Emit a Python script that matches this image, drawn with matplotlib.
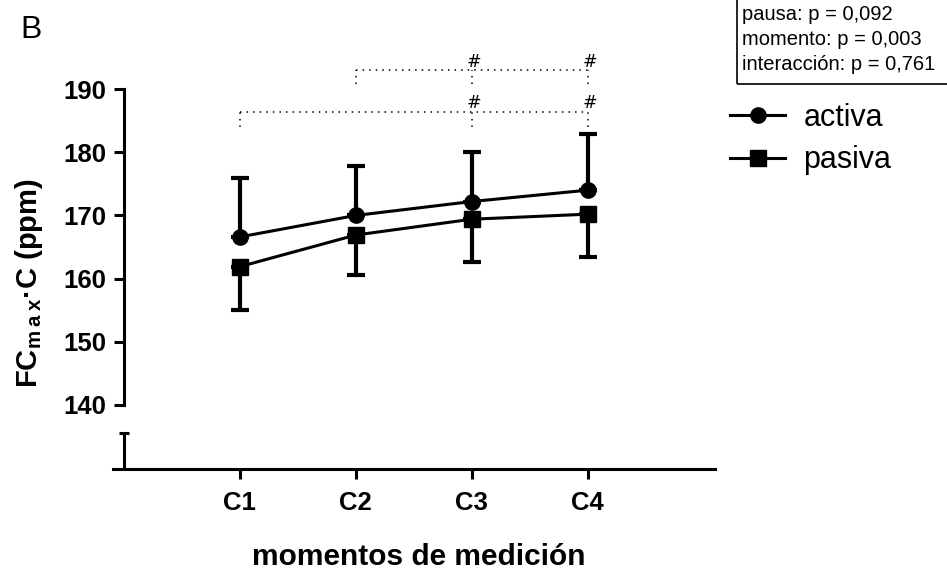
import matplotlib
matplotlib.use("Agg")
import matplotlib.pyplot as plt
from matplotlib.patches import Rectangle

plt.rcParams['font.family'] = ['Liberation Sans', 'DejaVu Sans']
plt.rcParams['mathtext.fontset'] = 'custom'
plt.rcParams['mathtext.rm'] = 'Liberation Sans'
plt.rcParams['mathtext.bf'] = 'Liberation Sans:bold'

MOMENTS = ['C1', 'C2', 'C3', 'C4']
X_POS = [1, 2, 3, 4]
ACTIVA_MEAN = [166.6, 170.0, 172.2, 174.0]
ACTIVA_SD = [9.4, 7.8, 7.8, 8.9]
PASIVA_MEAN = [161.9, 166.9, 169.4, 170.2]
PASIVA_SD = [6.9, 6.4, 6.8, 6.8]
Y_TICKS = [140, 150, 160, 170, 180, 190]
STATS_LINES = ['pausa: p = 0,092', 'momento: p = 0,003', 'interacción: p = 0,761']

# post-hoc brackets: (start moment, marked moments, bracket height, tick bottom)
BRACKETS = [
    (2, [3, 4], 193.0, 190.8),
    (1, [3, 4], 186.4, 184.0),
]

LW = 2.2

fig = plt.figure(figsize=(9.47, 5.79), dpi=100)
ax = fig.add_axes([113 / 947, 1 - 469 / 579, (715 - 113) / 947, (469 - 60) / 579])
ax.set_xlim(-0.095, 5.1)
ax.set_ylim(129.87, 194.6)

# activa: upper error only, pasiva: lower error only
ax.errorbar(X_POS, ACTIVA_MEAN, yerr=[[0] * 4, ACTIVA_SD], fmt='none',
            ecolor='black', elinewidth=3, capsize=6.5, capthick=3, zorder=2)
ax.errorbar(X_POS, PASIVA_MEAN, yerr=[PASIVA_SD, [0] * 4], fmt='none',
            ecolor='black', elinewidth=3, capsize=6.5, capthick=3, zorder=2)
l_act, = ax.plot(X_POS, ACTIVA_MEAN, color='black', lw=LW, marker='o',
                 markersize=11, label='activa', zorder=3)
l_pas, = ax.plot(X_POS, PASIVA_MEAN, color='black', lw=LW, marker='s',
                 markersize=11, label='pasiva', zorder=3)

# brackets with '#'
dot = (0, (1, 3.3))
for start, marks, yb, ybot in BRACKETS:
    ax.plot([start, marks[-1]], [yb, yb], color='black', lw=1.1, ls=dot,
            clip_on=False)
    for x in [start] + marks:
        ax.plot([x, x], [ybot, yb], color='black', lw=1.1, ls=dot, clip_on=False)
    for x in marks:
        ax.text(x + 0.02, yb - 0.1, '#', ha='center', va='bottom',
                fontsize=12.5, family='DejaVu Sans', clip_on=False)

# axes: broken y axis, x axis running a bit left of the y spine
for s in ['top', 'right']:
    ax.spines[s].set_visible(False)
ax.spines['left'].set_position(('data', 0))
ax.spines['left'].set_bounds(140, 190)
for s in ['left', 'bottom']:
    ax.spines[s].set_linewidth(LW)
ax.plot([0, 0], [129.87, 135.6], color='black', lw=LW, clip_on=False,
        solid_capstyle='butt')
ax.plot([-0.045, 0.045], [135.6, 135.6], color='black', lw=LW, clip_on=False,
        solid_capstyle='butt')

ax.set_yticks(Y_TICKS)
ax.set_xticks(X_POS)
ax.set_xticklabels(MOMENTS)
ax.tick_params(axis='both', direction='out', length=7, width=LW,
               labelsize=18.5, pad=6)
for lab in ax.get_xticklabels() + ax.get_yticklabels():
    lab.set_fontweight('bold')
ax.tick_params(axis='x', pad=9)

ax.set_xlabel('momentos de medición', fontsize=21.5, fontweight='bold')
ax.xaxis.set_label_coords(419 / 947, 1 - 543 / 579, transform=fig.transFigure)
ax.set_ylabel(r'FC$_{\mathbf{m\:a\:x}}$·C (ppm)', fontsize=21, fontweight='bold')
ax.yaxis.set_label_coords(45 / 947, 1 - 283 / 579, transform=fig.transFigure)

fig.text(20 / 947, 1 - 30 / 579, 'B', fontsize=23, va='center', ha='left')

# statistics box in the top right corner
fig.add_artist(Rectangle((737 / 947, 1 - 84 / 579), 0.3, 0.2,
                         transform=fig.transFigure, fill=False,
                         edgecolor='black', lw=1.2))
for i, line in enumerate(STATS_LINES):
    fig.text(742 / 947, 1 - (20 + 25 * i) / 579, line, fontsize=14.5,
             va='baseline', ha='left')

fig.legend(handles=[l_act, l_pas], loc='center left',
           bbox_to_anchor=(730 / 947, 1 - 139 / 579), frameon=False,
           fontsize=22, handlelength=1.8, handletextpad=0.6,
           labelspacing=0.42, borderaxespad=0, borderpad=0)

fig.savefig('out.png', dpi=100)
